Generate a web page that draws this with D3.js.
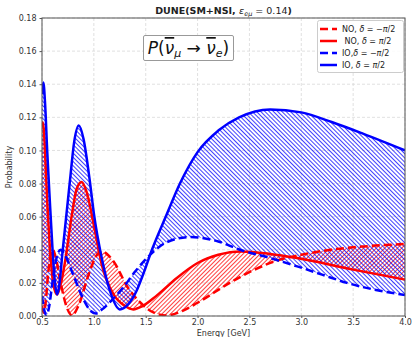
<!DOCTYPE html>
<html>
<head>
<meta charset="utf-8">
<script src="https://cdn.jsdelivr.net/npm/d3@7"></script>
<style>
  body { margin: 0; background: #fff; }
  text { font-family: "DejaVu Sans", sans-serif; }
</style>
</head>
<body>
<div id="chart"></div>
<script>
// [energy GeV, probability]
var noMinus = [[0.50,0.006],[0.515,0.002],[0.535,0.008],[0.56,0.026],[0.59,0.039],[0.605,0.040],[0.63,0.036],
  [0.68,0.020],[0.74,0.005],[0.79,0.0003],[0.85,0.006],[0.95,0.025],[1.02,0.036],[1.08,0.039],[1.15,0.036],
  [1.20,0.032],[1.32,0.018],[1.45,0.008],[1.58,0.002],[1.70,0.0003],[1.85,0.003],[2.0,0.008],[2.31,0.020],
  [2.55,0.028],[2.79,0.034],[3.0,0.037],[3.28,0.040],[3.6,0.042],[4.0,0.0435]];
var noPlus = [[0.50,0.114],[0.508,0.117],[0.52,0.110],[0.55,0.070],[0.58,0.038],[0.61,0.019],[0.645,0.013],
  [0.68,0.019],[0.72,0.032],[0.79,0.062],[0.835,0.077],[0.883,0.081],[0.93,0.075],[1.0,0.055],[1.076,0.031],
  [1.19,0.013],[1.30,0.006],[1.38,0.004],[1.47,0.006],[1.6,0.012],[1.8,0.023],[2.0,0.032],[2.2,0.037],
  [2.42,0.039],[2.7,0.0375],[2.96,0.035],[3.5,0.028],[4.0,0.022]];
var ioMinus = [[0.50,0.012],[0.52,0.004],[0.545,0.0005],[0.57,0.006],[0.60,0.020],[0.64,0.035],[0.68,0.040],
  [0.72,0.037],[0.80,0.025],[0.90,0.010],[0.97,0.003],[1.02,0.0015],[1.08,0.004],[1.18,0.010],[1.28,0.017],
  [1.40,0.027],[1.56,0.038],[1.7,0.0445],[1.93,0.0477],[2.2,0.045],[2.41,0.040],[2.7,0.035],[2.96,0.030],
  [3.2,0.025],[3.44,0.020],[3.7,0.016],[4.0,0.0127]];
var ioPlus = [[0.50,0.134],[0.513,0.141],[0.53,0.128],[0.55,0.100],[0.575,0.070],[0.60,0.042],[0.625,0.020],
  [0.645,0.013],[0.665,0.018],[0.70,0.040],[0.77,0.082],[0.81,0.105],[0.855,0.115],[0.90,0.107],[0.96,0.082],
  [1.00,0.062],[1.076,0.035],[1.156,0.015],[1.25,0.004],[1.33,0.007],[1.41,0.015],[1.48,0.026],[1.56,0.040],
  [1.7,0.061],[1.83,0.080],[2.0,0.099],[2.2,0.112],[2.4,0.120],[2.7,0.1248],[3.0,0.123],[3.3,0.117],
  [3.6,0.110],[4.0,0.100]];

var xTicks = [0.5, 1.0, 1.5, 2.0, 2.5, 3.0, 3.5, 4.0];
var yTicks = [0, 0.02, 0.04, 0.06, 0.08, 0.10, 0.12, 0.14, 0.16, 0.18];

var legendItems = [
  {label: ['NO, ', 'δ', ' = −', 'π', '/2'], color: 'red', dash: '8,4'},
  {label: [' NO, ', 'δ', ' = ', 'π', '/2'], color: 'red', dash: null},
  {label: ['IO,', 'δ', ' = −', 'π', '/2'], color: 'blue', dash: '8,4'},
  {label: ['IO, ', 'δ', ' = ', 'π', '/2'], color: 'blue', dash: null}
];

var width = 412, height = 337;
var plotL = 42, plotR = 405, plotT = 18, plotB = 316;

var svg = d3.select('#chart').append('svg')
    .attr('width', width)
    .attr('height', height);

var x = d3.scaleLinear().domain([0.5, 4.0]).range([plotL, plotR]);
var y = d3.scaleLinear().domain([0, 0.18]).range([plotB, plotT]);

var defs = svg.append('defs');
defs.append('clipPath').attr('id', 'plotclip')
    .append('rect').attr('x', plotL).attr('y', plotT)
    .attr('width', plotR - plotL).attr('height', plotB - plotT);

// diagonal hatching: a vertical stroke in a rotated tile
function hatch(id, color, angle) {
    defs.append('pattern')
        .attr('id', id)
        .attr('patternUnits', 'userSpaceOnUse')
        .attr('width', 3).attr('height', 3)
        .attr('patternTransform', 'rotate(' + angle + ')')
        .append('line')
        .attr('x1', 0.5).attr('y1', -1).attr('x2', 0.5).attr('y2', 4)
        .attr('stroke', color)
        .attr('stroke-width', 0.75);
}
hatch('hatchRed', '#ff0000', 45);
hatch('hatchBlue', '#0000ff', -45);

// grid
svg.append('g').selectAll('line').data(xTicks).enter().append('line')
    .attr('x1', function(d) { return x(d); }).attr('x2', function(d) { return x(d); })
    .attr('y1', plotT).attr('y2', plotB)
    .attr('stroke', '#d8d8d8').attr('stroke-width', 0.8).attr('stroke-dasharray', '3,2');
svg.append('g').selectAll('line').data(yTicks).enter().append('line')
    .attr('x1', plotL).attr('x2', plotR)
    .attr('y1', function(d) { return y(d); }).attr('y2', function(d) { return y(d); })
    .attr('stroke', '#d8d8d8').attr('stroke-width', 0.8).attr('stroke-dasharray', '3,2');

var area = d3.area()
    .x(function(d) { return x(d[0]); })
    .y0(y(0))
    .y1(function(d) { return y(d[1]); })
    .curve(d3.curveMonotoneX);

var line = d3.line()
    .x(function(d) { return x(d[0]); })
    .y(function(d) { return y(d[1]); })
    .curve(d3.curveMonotoneX);

var plot = svg.append('g').attr('clip-path', 'url(#plotclip)');

// band between the two curves of each ordering (even-odd of the two areas)
plot.append('path')
    .attr('d', area(noMinus) + area(noPlus))
    .attr('fill', 'url(#hatchRed)')
    .attr('fill-rule', 'evenodd');
plot.append('path')
    .attr('d', area(ioMinus) + area(ioPlus))
    .attr('fill', 'url(#hatchBlue)')
    .attr('fill-rule', 'evenodd');

var series = [
    {data: noMinus, color: 'red', dash: '8,4'},
    {data: noPlus, color: 'red', dash: null},
    {data: ioMinus, color: 'blue', dash: '8,4'},
    {data: ioPlus, color: 'blue', dash: null}
];
series.forEach(function(s) {
    plot.append('path')
        .attr('d', line(s.data))
        .attr('fill', 'none')
        .attr('stroke', s.color)
        .attr('stroke-width', 2.5)
        .attr('stroke-dasharray', s.dash);
});

// axes
var xAxis = svg.append('g').attr('transform', 'translate(0,' + plotB + ')')
    .call(d3.axisBottom(x).tickValues(xTicks).tickFormat(d3.format('.1f')).tickSize(2).tickPadding(1.5));
var yAxis = svg.append('g').attr('transform', 'translate(' + plotL + ',0)')
    .call(d3.axisLeft(y).tickValues(yTicks).tickFormat(d3.format('.2f')).tickSize(2.5).tickPadding(3));
[xAxis, yAxis].forEach(function(a) {
    a.select('.domain').remove();
    a.selectAll('line').attr('stroke', '#555');
    a.selectAll('text').attr('fill', '#333').style('font-size', '8px')
        .style('font-family', '"DejaVu Sans", sans-serif');
});

svg.append('rect')
    .attr('x', plotL).attr('y', plotT)
    .attr('width', plotR - plotL).attr('height', plotB - plotT)
    .attr('fill', 'none').attr('stroke', '#555').attr('stroke-width', 1);

// labels
svg.append('text').attr('x', (plotL + plotR) / 2).attr('y', 335.5)
    .attr('text-anchor', 'middle').attr('fill', '#333').style('font-size', '8px')
    .text('Energy [GeV]');
svg.append('text').attr('transform', 'translate(12,' + ((plotT + plotB) / 2) + ') rotate(-90)')
    .attr('text-anchor', 'middle').attr('fill', '#333').style('font-size', '8px')
    .text('Probability');

var title = svg.append('text').attr('x', (plotL + plotR) / 2).attr('y', 14)
    .attr('text-anchor', 'middle').attr('fill', '#222').style('font-size', '9.5px');
title.append('tspan').style('font-weight', 'bold').text('DUNE(SM+NSI, ');
title.append('tspan').style('font-style', 'italic').text('ε');
title.append('tspan').attr('dy', 2).style('font-size', '6.5px').style('font-style', 'italic').text('eμ');
title.append('tspan').attr('dy', -2).text(' = 0.14');
title.append('tspan').style('font-weight', 'bold').text(')');

// formula box
svg.append('rect').attr('x', 143.5).attr('y', 35.5).attr('width', 90).attr('height', 25)
    .attr('fill', '#fff').attr('stroke', '#999').attr('stroke-width', 1).attr('rx', 1.5);
var formula = svg.append('text').attr('x', 188.5).attr('y', 54)
    .attr('text-anchor', 'middle').attr('fill', '#111').style('font-size', '17px');
formula.append('tspan').style('font-style', 'italic').text('P');
formula.append('tspan').text('(');
formula.append('tspan').style('font-style', 'italic').style('text-decoration', 'overline').text('ν');
formula.append('tspan').attr('dy', 3).style('font-size', '11px').style('font-style', 'italic').text('μ');
formula.append('tspan').attr('dy', -3).text(' → ');
formula.append('tspan').style('font-style', 'italic').style('text-decoration', 'overline').text('ν');
formula.append('tspan').attr('dy', 3).style('font-size', '11px').style('font-style', 'italic').text('e');
formula.append('tspan').attr('dy', -3).text(')');

// legend
var legend = svg.append('g');
legend.append('rect').attr('x', 317.5).attr('y', 20.5).attr('width', 86).attr('height', 52)
    .attr('fill', '#fff').attr('fill-opacity', 0.85).attr('stroke', '#ccc').attr('rx', 2);
var rows = legend.selectAll('.row').data(legendItems).enter().append('g')
    .attr('class', 'row')
    .attr('transform', function(d, i) { return 'translate(0,' + (29 + i * 12) + ')'; });
rows.append('line').attr('x1', 320).attr('x2', 337).attr('y1', 0).attr('y2', 0)
    .attr('stroke', function(d) { return d.color; }).attr('stroke-width', 2.5)
    .attr('stroke-dasharray', function(d) { return d.dash; });
var lt = rows.append('text').attr('x', 342).attr('y', 2.8).attr('fill', '#222')
    .style('font-size', '8px').attr('xml:space', 'preserve');
lt.each(function(d) {
    var t = d3.select(this);
    d.label.forEach(function(part, k) {
        t.append('tspan').style('font-style', (k === 1 || k === 3) ? 'italic' : 'normal').text(part);
    });
});
</script>
</body>
</html>
